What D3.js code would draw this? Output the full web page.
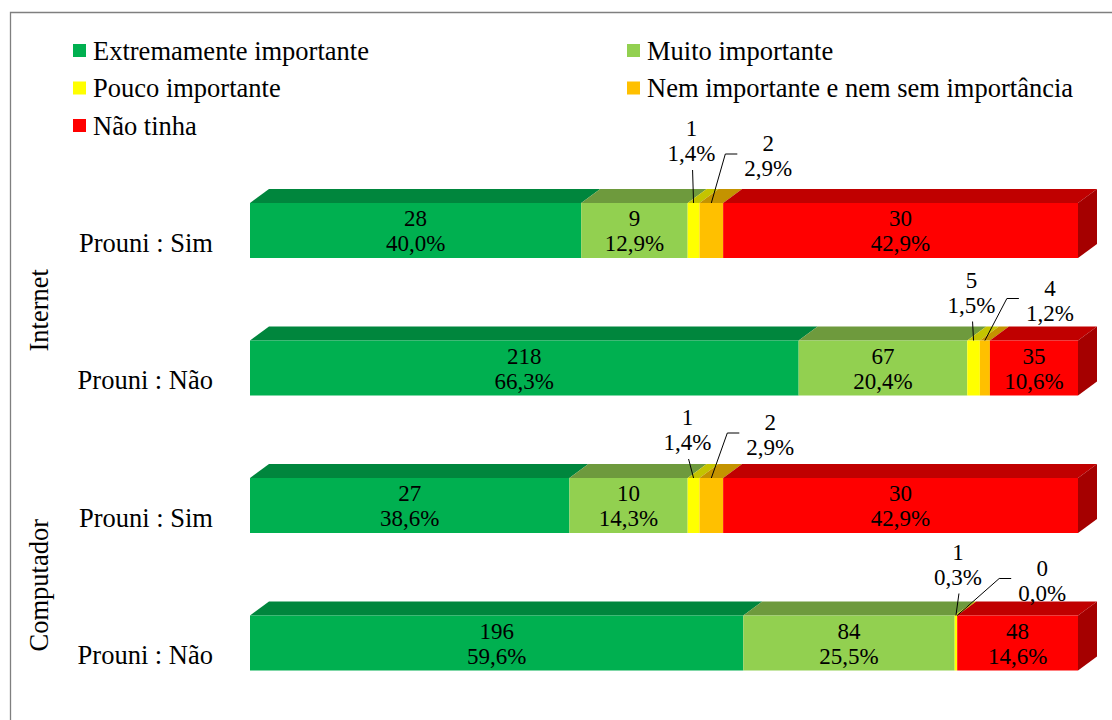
<!DOCTYPE html>
<html>
<head>
<meta charset="utf-8">
<script src="https://cdn.jsdelivr.net/npm/d3@7"></script>
<style>
  html, body { margin: 0; padding: 0; background: #fff; }
  svg { display: block; }
  svg text { font-family: "Liberation Serif", "Times New Roman", serif; }
</style>
</head>
<body>
<svg id="chart" width="1112" height="720"></svg>
<script>
// Categories, listed top-down as drawn.
var groups = ['Internet', 'Internet', 'Computador', 'Computador'];
var rows = ['Prouni : Sim', 'Prouni : Não', 'Prouni : Sim', 'Prouni : Não'];
var series = ['Extremamente importante', 'Muito importante', 'Pouco importante',
              'Nem importante e nem sem importância', 'Não tinha'];

// Counts per row, one array per series.
var extremamente = [28, 218, 27, 196];
var muito = [9, 67, 10, 84];
var pouco = [1, 5, 1, 1];
var nem = [2, 4, 2, 0];
var naoTinha = [30, 35, 30, 48];

var values = [extremamente, muito, pouco, nem, naoTinha];

// Front, top and side shades of each series.
var fronts = ['#00B050', '#92D050', '#FFFF00', '#FFC000', '#FF0000'];
var tops = ['#00863D', '#6E9A3D', '#C4C400', '#C49300', '#C00000'];
var sides = ['#007A36', '#5E8634', '#A8A800', '#A87E00', '#A50000'];

// Hand placed labels for the thin segments: [dx from segment, dy of % line].
var poucoLabelPos = [[-2, -50], [-2, -36], [-6, -36], [2, -39]];
var nemLabelPos = [[57, -35], [65, -28], [59, -31], [85, -23]];

var DEPTH_X = 19;
var DEPTH_Y = 14;
var LINE_GAP = 25;
var FONT = '"Liberation Serif", "Times New Roman", serif';

var svg = d3.select('#chart');
var keys = rows.map(function(r, i) { return i; });

var x = d3.scaleLinear().domain([0, 1]).range([250, 1078]);
var y = d3.scaleBand().domain(keys).range([161.75, 711.75]).
    paddingInner(0.6).paddingOuter(0.3);
var color = d3.scaleOrdinal().domain(series).range(fronts);

/**
 * Formats a share as Portuguese percent text.
 * @param {number} v Fraction.
 * @return {string} Text like 40,0%.
 */
function pct(v) {
  return (v * 100).toFixed(1).replace('.', ',') + '%';
}

// Frame: only top and left edges show in the crop.
svg.append('path').
    attr('d', 'M10.5,720 L10.5,12.5 L1112,12.5').
    attr('fill', 'none').
    attr('stroke', '#7f7f7f').
    attr('stroke-width', 1.3);

// Build stacked segments.
var stacked = keys.map(function(k) {
  var total = d3.sum(values, function(s) { return s[k]; });
  var acc = 0;
  return values.map(function(s, si) {
    var seg = {row: k, si: si, n: s[k], p: s[k] / total, x0: acc};
    acc += seg.p;
    seg.x1 = acc;
    return seg;
  });
});

var bars = svg.append('g').attr('class', 'bars');

stacked.forEach(function(segs, k) {
  var t = y(k);
  var b = t + y.bandwidth();
  var g = bars.append('g');

  // Top faces first, left to right.
  segs.forEach(function(d) {
    if (d.n === 0) return;
    var a = x(d.x0), c = x(d.x1);
    g.append('path').
        attr('d', 'M' + a + ',' + t + 'L' + (a + DEPTH_X) + ',' + (t - DEPTH_Y) +
            'L' + (c + DEPTH_X) + ',' + (t - DEPTH_Y) + 'L' + c + ',' + t + 'Z').
        attr('fill', tops[d.si]);
  });

  // Right side face of the last segment.
  var last = segs.filter(function(d) { return d.n > 0; }).pop();
  var r = x(last.x1);
  g.append('path').
      attr('d', 'M' + r + ',' + t + 'L' + (r + DEPTH_X) + ',' + (t - DEPTH_Y) +
          'L' + (r + DEPTH_X) + ',' + (b - DEPTH_Y) + 'L' + r + ',' + b + 'Z').
      attr('fill', sides[last.si]);

  // Front faces.
  segs.forEach(function(d) {
    if (d.n === 0) return;
    g.append('rect').
        attr('x', x(d.x0)).
        attr('y', t).
        attr('width', x(d.x1) - x(d.x0)).
        attr('height', y.bandwidth()).
        attr('fill', color(series[d.si]));
  });
});

// Data labels.
var labels = svg.append('g').
    attr('font-family', FONT).
    attr('font-size', 23).
    attr('fill', '#000').
    attr('text-anchor', 'middle');

function twoLines(cx, pctCenter, d) {
  labels.append('text').
      attr('x', cx).attr('y', pctCenter - LINE_GAP + 8).
      text(d.n);
  labels.append('text').
      attr('x', cx).attr('y', pctCenter + 8).
      text(pct(d.p));
}

stacked.forEach(function(segs, k) {
  var t = y(k);
  var mid = t + y.bandwidth() / 2;
  segs.forEach(function(d) {
    var sc = x((d.x0 + d.x1) / 2);
    if (d.si === 2 || d.si === 3) {
      var pos = (d.si === 2 ? poucoLabelPos : nemLabelPos)[k];
      var lx = sc + pos[0];
      var py = t + pos[1];
      twoLines(lx, py, d);
      var line = d.si === 2 ?
          [[sc, t], [lx + 1, py + 17]] :
          [[sc, t], [lx - 43, py - 14], [lx - 31, py - 14]];
      labels.append('path').
          attr('d', d3.line()(line)).
          attr('fill', 'none').
          attr('stroke', '#000').
          attr('stroke-width', 1);
    } else {
      twoLines(sc, mid + LINE_GAP / 2, d);
    }
  });
});

// Category labels.
var axis = svg.append('g').
    attr('font-family', FONT).
    attr('font-size', 26.5).
    attr('fill', '#000');
keys.forEach(function(k) {
  axis.append('text').
      attr('x', 213).
      attr('y', y(k) + y.bandwidth() / 2 + 21).
      attr('text-anchor', 'end').
      text(rows[k]);
});

// Group labels, rotated.
var groupNames = Array.from(new Set(groups));
groupNames.forEach(function(gName) {
  var ks = keys.filter(function(k) { return groups[k] === gName; });
  var cy = d3.mean(ks, function(k) { return y(k) + y.bandwidth() / 2; }) + 11;
  axis.append('text').
      attr('transform', 'translate(48,' + cy + ') rotate(-90)').
      attr('text-anchor', 'middle').
      text(gName);
});

// Legend: two columns, three rows.
var legend = svg.append('g').
    attr('font-family', FONT).
    attr('font-size', 26.5).
    attr('fill', '#000');
var legendCols = [73, 627];
series.forEach(function(s, i) {
  var lx = legendCols[i % 2];
  var ly = 50.5 + Math.floor(i / 2) * 37.5;
  legend.append('rect').
      attr('x', lx).attr('y', ly - 6.5).
      attr('width', 13).attr('height', 13).
      attr('fill', color(s));
  legend.append('text').
      attr('x', lx + 20).attr('y', ly + 9).
      text(s);
});
</script>
</body>
</html>
